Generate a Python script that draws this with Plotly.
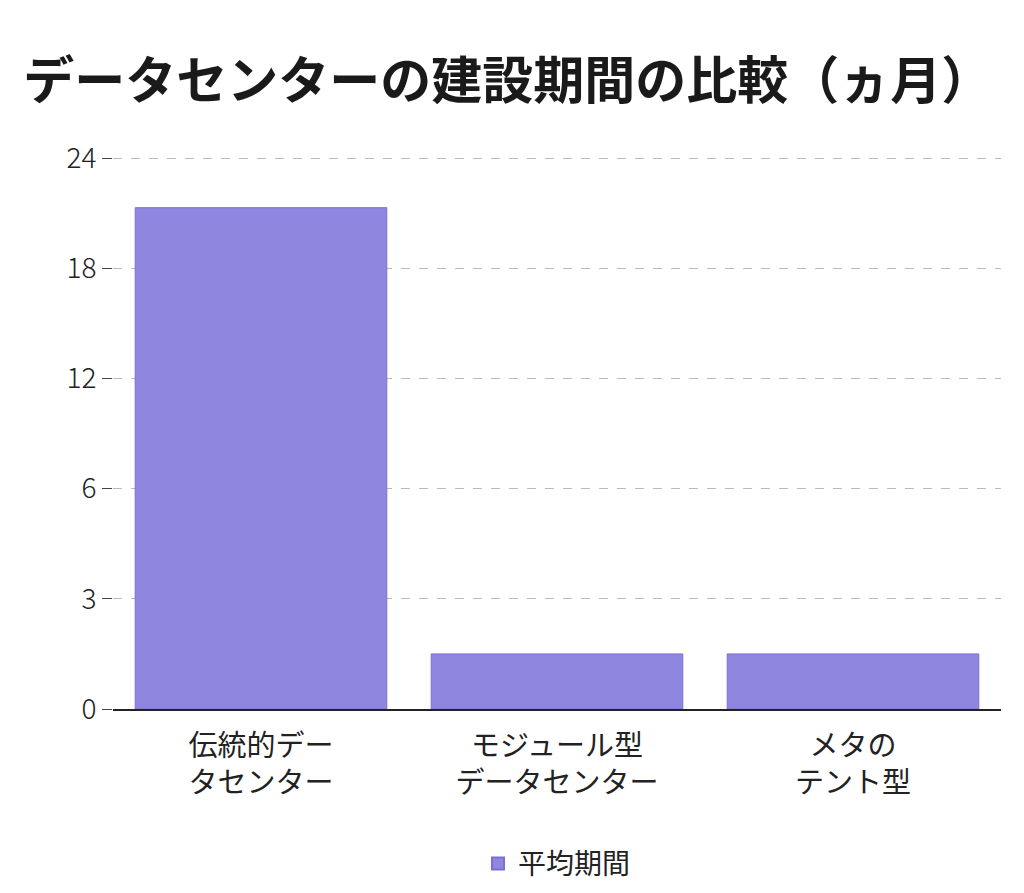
import numpy as np
import plotly.graph_objects as go

categories = ["伝統的デー<br>タセンター", "モジュール型<br>データセンター", "メタの<br>テント型"]
values = [21.3, 1.5, 1.5]
tick_values = [0, 3, 6, 12, 18, 24]
tick_labels = ["0", "3", "6", "12", "18", "24"]

# the axis is evenly spaced between uneven tick values, so map piecewise
def to_pos(v):
    return np.interp(v, tick_values, range(len(tick_values)))

fig = go.Figure(go.Bar(
    x=categories,
    y=[to_pos(v) for v in values],
    name="平均期間",
    marker=dict(color="#8f86e0", line=dict(color="#7a70d2", width=1)),
    hoverinfo="skip",
))

fig.update_layout(
    width=1024, height=893,
    paper_bgcolor="white", plot_bgcolor="white",
    font=dict(family="Noto Sans CJK JP", color="#222", size=26),
    title=dict(text="<b>データセンターの建設期間の比較（ヵ月）</b>", x=0.015, xanchor="left",
               y=0.918, yanchor="middle", font=dict(size=51, color="#1a1a1a")),
    margin=dict(l=105, r=31, t=149, b=188),
    bargap=0.15,
    showlegend=True,
    legend=dict(orientation="h", x=0.5, xanchor="center", y=-0.235, yanchor="top",
                font=dict(size=28), itemsizing="constant"),
    xaxis=dict(showline=True, linecolor="#222", linewidth=1.5, ticks="",
               tickfont=dict(size=29), ticklabelstandoff=10),
    yaxis=dict(range=[0, 5.01], tickvals=list(range(len(tick_values))), ticktext=tick_labels,
               showgrid=True, gridcolor="#bbb", griddash="dash", gridwidth=1,
               ticks="outside", ticklen=10, tickcolor="#444", zeroline=False,
               tickfont=dict(size=28, family="Noto Sans CJK JP Light, Noto Sans CJK JP")),
)

fig.write_html("out.html")
